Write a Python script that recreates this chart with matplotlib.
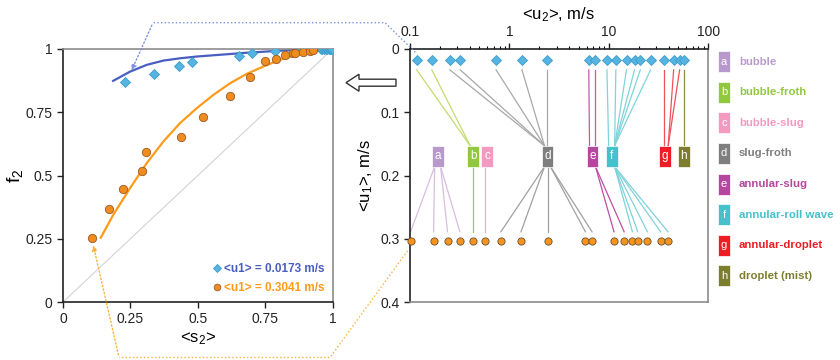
import numpy as np
import matplotlib
matplotlib.use("Agg")
import matplotlib.pyplot as plt
from matplotlib.patches import Rectangle, FancyArrow, FancyArrowPatch
from matplotlib.lines import Line2D

plt.rcParams['font.family'] = ['Liberation Sans', 'DejaVu Sans']
plt.rcParams['mathtext.fontset'] = 'custom'
plt.rcParams['mathtext.rm'] = 'Liberation Sans'
plt.rcParams['mathtext.it'] = 'Liberation Sans'

# --- left panel: void fraction vs <s2> ---
s2_low = [0.230, 0.337, 0.431, 0.479, 0.652, 0.700, 0.788, 0.863, 0.884, 0.927,
          0.955, 0.962, 0.968, 0.975, 0.98, 0.985, 0.99, 0.993, 0.996]
f2_low = [0.871, 0.902, 0.934, 0.950, 0.974, 0.986, 0.992, 0.999, 0.998, 1.0,
          1.0, 1.0, 1.0, 1.0, 1.0, 1.0, 1.0, 1.0, 1.0]
s2_high = [0.106, 0.172, 0.221, 0.294, 0.307, 0.437, 0.520, 0.620, 0.693, 0.748,
           0.791, 0.825, 0.853, 0.860, 0.890, 0.915, 0.927]
f2_high = [0.254, 0.368, 0.445, 0.518, 0.592, 0.651, 0.733, 0.814, 0.891, 0.953,
           0.959, 0.976, 0.983, 0.986, 0.989, 0.992, 0.995]
fit_low_s2 = [0.186, 0.248, 0.310, 0.372, 0.433, 0.495, 0.557, 0.619, 0.680, 0.742,
              0.804, 0.866, 0.93, 1.0]
fit_low_f2 = [0.874, 0.910, 0.937, 0.954, 0.963, 0.970, 0.975, 0.980, 0.985, 0.989,
              0.993, 0.996, 0.998, 1.0]
fit_high_s2 = [0.140, 0.186, 0.248, 0.310, 0.372, 0.433, 0.495, 0.557, 0.619, 0.680,
               0.742, 0.804, 0.866, 0.927, 1.0]
fit_high_f2 = [0.254, 0.344, 0.449, 0.548, 0.634, 0.706, 0.765, 0.818, 0.864, 0.901,
               0.930, 0.957, 0.976, 0.992, 1.0]

# --- right panel: flow regimes ---
u1_low = 0.0173
u1_high = 0.3041
u2_low = [0.117, 0.166, 0.252, 0.321, 0.736, 1.34, 2.42, 6.3, 7.3, 9.6,
          11.8, 15.1, 18.2, 20.8, 26.4, 35.7, 45.0, 51.7, 57.6]
reg_low = list("bbdddddeeffffffgggh")
u2_high = [0.1016, 0.173, 0.239, 0.318, 0.436, 0.563, 0.822, 1.31, 2.44, 5.83,
           6.79, 11.3, 14.3, 17.3, 19.6, 24.5, 33.3, 39.5]
reg_high = list("aaaabcdddddeefffff")

reg_keys = list("abcdefgh")
reg_names = ["bubble", "bubble-froth", "bubble-slug", "slug-froth",
             "annular-slug", "annular-roll wave", "annular-droplet", "droplet (mist)"]
reg_colors = ["#B79ACB", "#92C83E", "#F49AC1", "#7F7F7F",
              "#B5479E", "#45C1C9", "#EE1C24", "#7D7D2E"]
reg_line_top = ["#B79ACB", "#C3DC6E", "#F49AC1", "#A8A8A8",
                "#C35AAE", "#7FD4DA", "#F0505A", "#8E8E3A"]
reg_line_bot = ["#D8BDE0", "#9CCB45", "#F5A8CB", "#A0A0A0",
                "#BC4FA4", "#80D2D9", "#F0505A", "#8E8E3A"]
reg_u2 = [0.190, 0.433, 0.598, 2.42, 6.87, 10.7, 37.0, 56.8]

box_top, box_bot = 0.153, 0.186
line_top0, line_bot1 = 0.033, 0.289

fig = plt.figure(figsize=(8.4, 3.6), dpi=100)
ax1 = fig.add_axes([0.075, 0.161, 0.321, 0.703])
ax2 = fig.add_axes([0.488, 0.161, 0.355, 0.703])

blue_line = "#4A5EC2"
orange_line = "#FF9B1A"

# ---------- left panel ----------
ax1.plot([0, 1], [0, 1], color="#D3D3D3", lw=0.8, zorder=1)
ax1.plot(fit_low_s2, fit_low_f2, color=blue_line, lw=1.6, zorder=2)
ax1.plot(fit_high_s2, fit_high_f2, color=orange_line, lw=1.6, zorder=2)
ax1.plot(s2_low, f2_low, "D", ms=5.5, mfc="#55B4E2", mec="#3E9CCB", mew=0.6,
         ls="none", zorder=3, label="<u1> = 0.0173 m/s")
ax1.plot(s2_high, f2_high, "o", ms=6, mfc="#F08C1E", mec="#9A5A2A", mew=0.6,
         ls="none", zorder=3, label="<u1> = 0.3041 m/s")
ax1.set_xlim(0, 1)
ax1.set_ylim(0, 1)
ticks = [0, 0.25, 0.5, 0.75, 1]
tlabels = ["0", "0.25", "0.5", "0.75", "1"]
ax1.set_xticks(ticks, tlabels)
ax1.set_yticks(ticks, tlabels)
ax1.tick_params(labelsize=10, length=4, width=1, colors="#222222")
ax1.set_xlabel("<s$_2$>", fontsize=12, labelpad=3)
ax1.set_ylabel("f$_2$", fontsize=14)
ax1.yaxis.set_label_coords(-0.14, 0.5)
for side in ["left", "bottom"]:
    ax1.spines[side].set_color("#222222")
for side in ["top", "right"]:
    ax1.spines[side].set_color("#8C8C8C")
for sp in ax1.spines.values():
    sp.set_linewidth(1.2)
leg = ax1.legend(loc="lower right", frameon=False, handletextpad=0.1,
                 handlelength=1.0, borderaxespad=0.3, labelspacing=0.6,
                 markerscale=0.8, prop={"weight": "bold", "size": 8.5})
for t, c in zip(leg.get_texts(), [blue_line, orange_line]):
    t.set_color(c)

# ---------- right panel ----------
ax2.set_xscale("log")
ax2.set_xlim(0.1, 100)
ax2.set_ylim(0.4, 0)
ax2.xaxis.set_ticks_position("top")
ax2.xaxis.set_label_position("top")
ax2.set_xticks([0.1, 1, 10, 100], ["0.1", "1", "10", "100"])
ax2.set_yticks([0, 0.1, 0.2, 0.3, 0.4], ["0", "0.1", "0.2", "0.3", "0.4"])
ax2.tick_params(labelsize=10, length=4, width=1, colors="#222222")
ax2.tick_params(which="minor", length=2.5, width=0.8)
ax2.set_xlabel("<u$_2$>, m/s", fontsize=12, labelpad=4)
ax2.set_ylabel("<u$_1$>, m/s", fontsize=12, labelpad=4)
for side in ["left", "top"]:
    ax2.spines[side].set_color("#222222")
for side in ["right", "bottom"]:
    ax2.spines[side].set_color("#8C8C8C")
for sp in ax2.spines.values():
    sp.set_linewidth(1.2)

half = 10 ** 0.06
nudge = 10 ** 0.03
for u, r in zip(u2_low, reg_low):
    i = reg_keys.index(r)
    c = reg_u2[i]
    xe = min(max(u, c / nudge), c * nudge)
    ax2.plot([u, xe], [line_top0, box_top], color=reg_line_top[i], lw=0.9, zorder=1)
for u, r in zip(u2_high, reg_high):
    i = reg_keys.index(r)
    c = reg_u2[i]
    xs = min(max(u, c / nudge), c * nudge)
    ax2.plot([xs, u], [box_bot, line_bot1], color=reg_line_bot[i], lw=0.9, zorder=1)

for k, c, col in zip(reg_keys, reg_u2, reg_colors):
    ax2.add_patch(Rectangle((c / half, box_top), c * half - c / half, box_bot - box_top,
                            facecolor=col, edgecolor="white", lw=0.5, zorder=2))
    ax2.text(c, (box_top + box_bot) / 2, k, color="white", fontsize=8.5,
             ha="center", va="center", zorder=3)

ax2.plot(u2_low, [u1_low] * len(u2_low), "D", ms=5, mfc="#55B4E2", mec="#3E9CCB",
         mew=0.6, ls="none", zorder=4, clip_on=False)
ax2.plot(u2_high, [u1_high] * len(u2_high), "o", ms=5.2, mfc="#F7941D", mec="#6B5030",
         mew=0.6, ls="none", zorder=4, clip_on=False)

# ---------- regime legend ----------
def fx(px):
    return px / 840


def fy(py):
    return 1 - py / 360


for j, (k, name, col) in enumerate(zip(reg_keys, reg_names, reg_colors)):
    yc = 61.7 + j * 30.6
    fig.patches.append(Rectangle((fx(718), fy(yc + 10.5)), 12 / 840, 21 / 360,
                                 facecolor=col, edgecolor="white", lw=0.5,
                                 transform=fig.transFigure, figure=fig))
    fig.text(fx(724), fy(yc), k, color="white", fontsize=8, ha="center", va="center")
    fig.text(fx(739), fy(yc), name, color=col, fontsize=8.2, fontweight="bold",
             ha="left", va="center")

# ---------- connectors ----------
fig.canvas.draw()
to_fig = fig.transFigure.inverted()


def data_to_fig(ax, x, y):
    return to_fig.transform(ax.transData.transform((x, y)))


blue_dot = "#7F8FE0"
orange_dot = "#FBB040"

# blue: from first low-u1 diamond to the blue fit
p_start = data_to_fig(ax2, u2_low[0] * 0.97, u1_low - 0.012)
p_end = data_to_fig(ax1, 0.25, 0.905)
corners = [p_start, (fx(385), fy(22.7)), (fx(153), fy(22.7))]
fig.add_artist(Line2D([p[0] for p in corners], [p[1] for p in corners],
                      color=blue_dot, lw=1, ls=":", transform=fig.transFigure))
fig.add_artist(FancyArrowPatch(corners[-1], p_end,
               transform=fig.transFigure, arrowstyle="-|>", mutation_scale=8,
               color=blue_dot, lw=1, linestyle=":"))

# orange: from first high-u1 circle to the orange fit
q_start = data_to_fig(ax2, u2_high[0] * 0.93, u1_high + 0.015)
q_end = data_to_fig(ax1, 0.11, 0.235)
corners = [q_start, (fx(330), fy(357.5)), (fx(119), fy(357.5))]
fig.add_artist(Line2D([p[0] for p in corners], [p[1] for p in corners],
                      color=orange_dot, lw=1, ls=":", transform=fig.transFigure))
fig.add_artist(FancyArrowPatch(corners[-1], q_end,
               transform=fig.transFigure, arrowstyle="-|>", mutation_scale=8,
               color=orange_dot, lw=1, linestyle=":"))

# hollow arrow between panels
fig.patches.append(FancyArrow(fx(396), fy(82.7), -50 / 840, 0, width=7 / 360,
                              head_width=17 / 360, head_length=13 / 840,
                              length_includes_head=True, facecolor="white",
                              edgecolor="#333333", lw=1, transform=fig.transFigure,
                              figure=fig))

fig.savefig("out.png", dpi=100)
